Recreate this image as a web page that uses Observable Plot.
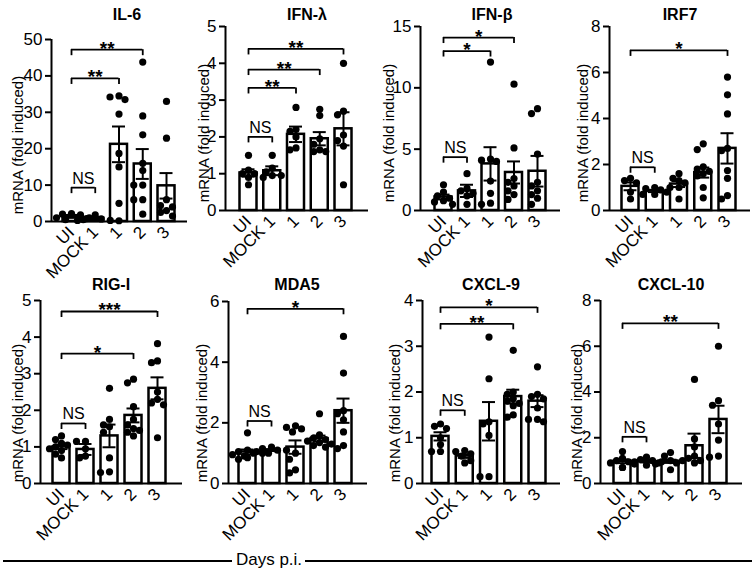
<!DOCTYPE html>
<html><head><meta charset="utf-8">
<script src="https://cdn.jsdelivr.net/npm/d3@7"></script>
<script src="https://cdn.jsdelivr.net/npm/@observablehq/plot@0.6"></script>
<style>
body{margin:0;background:#fff;font-family:"Liberation Sans",Arial,sans-serif;}
#chart{position:relative;width:755px;height:576px;overflow:hidden;background:#fff;}
.title{position:absolute;font-weight:bold;font-size:16px;transform:translate(-50%,-50%);white-space:nowrap;color:#000;}
.ylab{position:absolute;font-size:15px;transform:translate(-50%,-50%) rotate(-90deg);white-space:nowrap;color:#000;}
.panel{position:absolute;}
.panel svg{overflow:visible;max-width:none;}
.hline{position:absolute;height:2px;background:#000;}
.foot{position:absolute;font-size:17px;transform:translate(-50%,-50%);white-space:nowrap;}
</style></head><body><div id="chart"></div>
<script>
const categories = ["UI", "MOCK 1", "1", "2", "3"];
const genes = ["IL-6", "IFN-λ", "IFN-β", "IRF7", "RIG-I", "MDA5", "CXCL-9", "CXCL-10"];
const yMax = [50, 5, 15, 8, 5, 6, 4, 8];
const yTicks = [
  [0, 10, 20, 30, 40, 50], [0, 1, 2, 3, 4, 5], [0, 5, 10, 15], [0, 2, 4, 6, 8],
  [0, 1, 2, 3, 4, 5], [0, 2, 4, 6], [0, 1, 2, 3, 4], [0, 2, 4, 6, 8]
];
const yLabel = "mRNA (fold induced)";
const xTitle = "Days p.i.";

// bar means and SEM (per gene, per category)
const means = [
  [1.4, 0.9, 21.2, 15.8, 9.8],
  [1.02, 1.08, 2.07, 1.95, 2.22],
  [1.1, 1.6, 3.8, 3.1, 3.2],
  [1.05, 0.85, 1.15, 1.65, 2.7],
  [1.0, 0.93, 1.3, 1.86, 2.6],
  [1.04, 1.1, 1.2, 1.48, 2.4],
  [1.03, 0.6, 1.36, 1.9, 1.8],
  [0.97, 0.97, 0.97, 1.65, 2.8]
];
const sems = [
  [0.4, 0.3, 4.9, 4.1, 3.5],
  [0.1, 0.12, 0.21, 0.18, 0.45],
  [0.2, 0.5, 1.36, 0.9, 1.25],
  [0.17, 0.05, 0.13, 0.22, 0.66],
  [0.06, 0.15, 0.31, 0.19, 0.3],
  [0.08, 0.03, 0.22, 0.1, 0.4],
  [0.09, 0.04, 0.42, 0.15, 0.13],
  [0.08, 0.05, 0.07, 0.53, 0.6]
];
// individual data points
const dots = [
  [[2.2, 2.0, 1.8, 1.0, 0.5, 0.3, 0.8], [1.8, 1.0, 0.5, 0.7, 0.3], [34.5, 34.2, 33.5, 29.5, 18.7, 15, 5, 0.2], [43.8, 29, 23.8, 16, 14, 10, 10, 6, 6, 2], [33, 22.9, 6, 4.4, 4, 3, 2.5, 1.5]],
  [[1.5, 1.1, 1.0, 1.0, 0.9, 0.7], [1.5, 1.15, 1.05, 0.95, 0.95, 0.9], [2.8, 2.2, 2.15, 2.0, 1.7, 1.65], [2.75, 2.58, 1.95, 1.8, 1.65, 1.6, 1.6], [4.0, 2.7, 2.6, 2.05, 1.9, 1.75, 0.7]],
  [[2.1, 1.5, 1.2, 1.0, 0.8, 0.7, 0.5], [3.0, 1.8, 1.6, 1.4, 1.2, 0.5], [12.1, 4.2, 4.1, 4.0, 2.4, 1.4, 0.6, 0.5], [10.3, 5.1, 2.6, 2.3, 2.0, 1.6, 1.3, 0.9], [8.3, 7.9, 4.6, 2.3, 2.0, 1.6, 1.3, 1.0, 0.5]],
  [[1.4, 1.3, 1.2, 0.8, 0.5], [1.0, 0.95, 0.9, 0.8, 0.7, 0.7], [1.6, 1.4, 1.3, 1.2, 1.0, 1.0, 0.5], [2.9, 2.65, 1.9, 1.8, 1.7, 1.6, 1.5, 1.0, 0.55], [5.8, 5.03, 4.2, 2.7, 2.6, 1.74, 1.4, 0.65, 0.5]],
  [[1.3, 1.2, 1.1, 1.05, 1.0, 0.95, 0.9, 0.8, 0.7], [1.15, 1.15, 0.95, 0.75, 0.7], [2.6, 1.75, 1.6, 1.55, 1.4, 0.7, 0.32, 0.3], [2.85, 2.75, 2.1, 1.75, 1.6, 1.5, 1.45, 1.4, 1.3], [3.82, 3.35, 3.3, 2.5, 2.3, 2.2, 2.15, 1.25]],
  [[1.67, 1.1, 1.05, 1.0, 1.0, 0.95, 0.9, 0.85, 0.8], [1.2, 1.15, 1.1, 1.1, 1.05, 1.0], [1.9, 1.85, 1.8, 1.7, 1.0, 0.8, 0.45, 0.35], [2.3, 1.6, 1.5, 1.45, 1.4, 1.35, 1.3, 1.25, 1.2], [4.85, 3.64, 2.4, 2.3, 2.1, 1.7, 1.25, 1.15]],
  [[1.3, 1.25, 1.2, 1.0, 0.85, 0.7, 0.7], [0.72, 0.7, 0.65, 0.6, 0.5, 0.45], [3.2, 2.29, 1.35, 1.3, 1.05, 0.15, 0.15], [2.91, 2.0, 1.95, 1.85, 1.8, 1.75, 1.7, 1.5, 1.45], [2.55, 1.95, 1.9, 1.85, 1.65, 1.4, 1.4, 1.35]],
  [[1.4, 1.1, 1.0, 0.95, 0.9, 0.85, 0.7, 0.7], [1.15, 1.05, 1.0, 0.95, 0.9, 0.8], [1.35, 1.2, 1.0, 0.95, 0.9, 0.85, 0.6], [4.55, 1.95, 1.6, 1.2, 1.1, 1.0, 1.0, 0.9], [6.0, 3.62, 3.42, 2.6, 1.9, 1.2, 1.15]]
];
// significance brackets: [from category index, to index, level, label]
const brackets = [
  [[0, 1, 9.3, "NS"], [0, 2, 39.3, "**"], [0, 3, 47.2, "**"]],
  [[0, 1, 2.0, "NS"], [0, 2, 3.33, "**"], [0, 3, 3.83, "**"], [0, 4, 4.39, "**"]],
  [[0, 1, 4.35, "NS"], [0, 2, 13.0, "*"], [0, 3, 14.1, "*"]],
  [[0, 1, 1.88, "NS"], [0, 4, 6.96, "*"]],
  [[0, 1, 1.64, "NS"], [0, 3, 3.55, "*"], [0, 4, 4.7, "***"]],
  [[0, 1, 2.06, "NS"], [0, 4, 5.76, "*"]],
  [[0, 1, 1.6, "NS"], [0, 3, 3.49, "**"], [0, 4, 3.85, "*"]],
  [[0, 1, 2.04, "NS"], [0, 4, 7.0, "**"]]
];

// page layout per panel: axisX, first bar centre, last bar centre, axis end, top tick y, zero y, y-label offset, title x
const layout = [
  [51, 71, 166, 187, 39, 221, 34, 127],
  [225, 248, 343, 368, 26, 210, 22, 307],
  [420, 443, 537, 560, 26, 210, 32, 492],
  [609, 630, 727, 750, 26, 210, 27, 680],
  [40, 61, 157, 182, 300, 483, 23, 111],
  [228, 247, 343, 367, 301, 483, 27, 297],
  [422, 440, 537, 560, 300, 483, 28, 491],
  [600, 622, 718, 742, 300, 483, 24, 671]
];

const FONT = "Liberation Sans, Arial, Helvetica, sans-serif";
const chart = document.getElementById("chart");

function swarm(groups, ppu, step, r) {
  const out = [];
  groups.forEach((arr, i) => {
    const placed = [];
    [...arr].sort((a, b) => b - a).forEach(v => {
      const py = v * ppu;
      const cands = [0, -6, 6, -3, 3, -9, 9, -12, 12, -15, 15];
      let off = cands.find(o => placed.every(p => Math.hypot(p.o - o, p.py - py) >= 2 * r - 1));
      if (off === undefined) off = 0;
      placed.push({o: off, py});
      out.push({x: i + off / step, y: v});
    });
  });
  return out;
}

genes.forEach((g, k) => {
  const [axisX, c0, c4, endX, topY, zeroY, labOff, titleX] = layout[k];
  const row = k < 4 ? 0 : 1;
  const svgTop = row ? 268 : 0;
  const step = (c4 - c0) / 4;
  const xd = [(axisX - c0) / step, (endX - c0) / step];
  const mL = 60, mR = 4, mT = topY - svgTop, mB = 62;
  const width = mL + (endX - axisX) + mR;
  const height = zeroY - svgTop + mB;
  const ymax = yMax[k];
  const ppu = (zeroY - topY) / ymax;
  const bars = categories.map((c, i) => ({i, mean: means[k][i], sem: sems[k][i]}));
  const pts = swarm(dots[k], ppu, step, 3.6);
  const tickLen = 6 / ppu;
  const br = brackets[k].map(([from, to, level, label]) => ({from, to, level, label}));
  const ns = br.filter(d => d.label === "NS");
  const stars = br.filter(d => d.label !== "NS");
  const hw = 8.5 / step, cw = 6.5 / step;

  const plot = Plot.plot({
    width, height, marginLeft: mL, marginRight: mR, marginTop: mT, marginBottom: mB,
    style: {fontFamily: FONT, background: "transparent", overflow: "visible", color: "black", maxWidth: "none"},
    x: {type: "linear", domain: xd},
    y: {domain: [0, ymax]},
    marks: [
      Plot.rectY(bars, {x1: d => d.i - hw, x2: d => d.i + hw, y1: 0, y2: "mean", fill: "white", stroke: "black", strokeWidth: 2.5}),
      Plot.ruleX(bars, {x: "i", y1: d => d.mean - d.sem, y2: d => d.mean + d.sem, stroke: "black", strokeWidth: 2}),
      Plot.ruleY(bars, {y: d => d.mean + d.sem, x1: d => d.i - cw, x2: d => d.i + cw, stroke: "black", strokeWidth: 2}),
      Plot.ruleY(bars, {y: d => d.mean - d.sem, x1: d => d.i - cw, x2: d => d.i + cw, stroke: "black", strokeWidth: 2}),
      Plot.dot(pts, {x: "x", y: "y", r: 3.6, fill: "black"}),
      Plot.ruleY([0], {stroke: "black", strokeWidth: 2}),
      Plot.ruleX([xd[0]], {y1: 0, y2: ymax, stroke: "black", strokeWidth: 2}),
      Plot.ruleY(br, {y: "level", x1: "from", x2: "to", stroke: "black", strokeWidth: 1.8}),
      Plot.ruleX(br, {x: "from", y1: d => d.level - tickLen, y2: "level", stroke: "black", strokeWidth: 1.8}),
      Plot.ruleX(br, {x: "to", y1: d => d.level - tickLen, y2: "level", stroke: "black", strokeWidth: 1.8}),
      Plot.text(ns, {x: d => (d.from + d.to) / 2, y: "level", text: "label", lineAnchor: "bottom", dy: -4, fontSize: 16, fill: "black"}),
      Plot.text(stars, {x: d => (d.from + d.to) / 2, y: "level", text: "label", lineAnchor: "bottom", dy: 5, fontSize: 19, fontWeight: "bold", fill: "black"}),
      Plot.axisY(yTicks[k], {tickSize: 6, tickPadding: 3, fontSize: 17, label: null, strokeWidth: 2, stroke: "black", fill: "black"}),
      Plot.axisX([0, 1, 2, 3, 4], {tickFormat: i => categories[i], tickRotate: -45, tickSize: 0, tickPadding: 8, fontSize: 17, label: null, fill: "black"})
    ]
  });
  const wrap = document.createElement("div");
  wrap.className = "panel";
  wrap.style.left = (axisX - mL) + "px";
  wrap.style.top = svgTop + "px";
  wrap.style.width = width + "px";
  wrap.style.height = height + "px";
  wrap.appendChild(plot);
  chart.appendChild(wrap);

  const yl = document.createElement("div");
  yl.className = "ylab";
  yl.textContent = yLabel;
  yl.style.left = (axisX - labOff) + "px";
  yl.style.top = ((topY + zeroY) / 2 + (row ? 21 : 15)) + "px";
  chart.appendChild(yl);

  const t = document.createElement("div");
  t.className = "title";
  t.textContent = g;
  t.style.left = titleX + "px";
  t.style.top = (row ? 285 : 15) + "px";
  chart.appendChild(t);
});

// footer: Days p.i. with lines
const l1 = document.createElement("div");
l1.className = "hline"; l1.style.left = "3px"; l1.style.width = "229px"; l1.style.top = "560px";
chart.appendChild(l1);
const l2 = document.createElement("div");
l2.className = "hline"; l2.style.left = "305px"; l2.style.width = "447px"; l2.style.top = "560px";
chart.appendChild(l2);
const ft = document.createElement("div");
ft.className = "foot"; ft.textContent = xTitle; ft.style.left = "269px"; ft.style.top = "560px";
chart.appendChild(ft);
</script>
</body></html>
